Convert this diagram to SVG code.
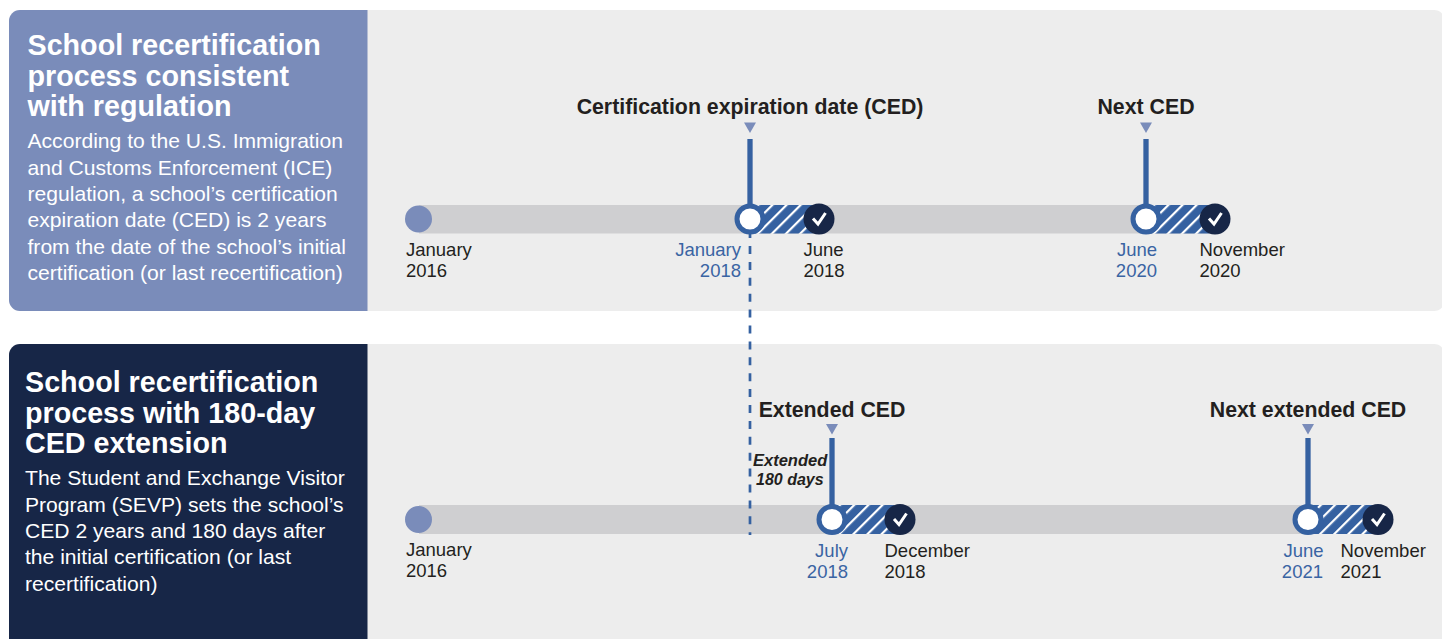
<svg xmlns="http://www.w3.org/2000/svg" width="1442" height="639" viewBox="0 0 1442 639">
<style>
text{font-family:"Liberation Sans",Arial,sans-serif;}
.h{font-size:28.700px;font-weight:700;fill:#fff}
.b{font-size:21.100px;fill:#fff}
.t{font-size:21.300px;font-weight:700;fill:#231f20}
.d{font-size:18.500px;fill:#231f20}
.db{font-size:18.500px;fill:#3a64a3}
.e{text-anchor:end}
.i{font-size:16.500px;font-weight:700;font-style:italic;fill:#231f20}
.bar{fill:#cfcfd1}
.stem{stroke:#3561a1;stroke-width:5.300;fill:none}
.tri{fill:#7a8cba}
.ring{fill:#fff;stroke:#3561a1;stroke-width:5}
.dark{fill:#172647}
.chk{fill:none;stroke:#fff;stroke-width:3}
.start{fill:#7a8cba}
</style>
<defs>
<pattern id="hatch" width="10" height="10" patternUnits="userSpaceOnUse" patternTransform="rotate(45)">
<rect width="10" height="10" fill="#3561a1"/>
<rect x="0" width="2.200" height="10" fill="#fff"/>
</pattern>
</defs>
<rect width="1442" height="639" fill="#fff"/>
<g id="panel-top">
<path d="M1434 10H20a11 11 0 0 0-11 11V300a11 11 0 0 0 11 11H1434a11 11 0 0 0 11-11V21a11 11 0 0 0-11-11Z" fill="#ededed"/>
<path d="M367.500 10H20a11 11 0 0 0-11 11V300a11 11 0 0 0 11 11H367.500Z" fill="#7a8cba"/>
<text class="h" x="27.500" y="55">School recertification</text>
<text class="h" x="27.500" y="85.500">process consistent</text>
<text class="h" x="27.500" y="115.500">with regulation</text>
<text class="b" x="27.500" y="148">According to the U.S. Immigration</text>
<text class="b" x="27.500" y="174.500">and Customs Enforcement (ICE)</text>
<text class="b" x="27.500" y="201">regulation, a school’s certification</text>
<text class="b" x="27.500" y="227">expiration date (CED) is 2 years</text>
<text class="b" x="27.500" y="253.500">from the date of the school’s initial</text>
<text class="b" x="27.500" y="280">certification (or last recertification)</text>
</g>
<g id="panel-bottom">
<path d="M1434 344H20a11 11 0 0 0-11 11V639H1445V355a11 11 0 0 0-11-11Z" fill="#ededed"/>
<path d="M367.500 344H20a11 11 0 0 0-11 11V639H367.500Z" fill="#172647"/>
<text class="h" x="25" y="392">School recertification</text>
<text class="h" x="25" y="422.500">process with 180-day</text>
<text class="h" x="25" y="452.500">CED extension</text>
<text class="b" x="25" y="485">The Student and Exchange Visitor</text>
<text class="b" x="25" y="511.500">Program (SEVP) sets the school’s</text>
<text class="b" x="25" y="538">CED 2 years and 180 days after</text>
<text class="b" x="25" y="564">the initial certification (or last</text>
<text class="b" x="25" y="590.500">recertification)</text>
</g>
<g id="timeline-top">
<rect class="bar" x="419" y="205" width="790" height="28.500"/>
<circle class="start" cx="418.500" cy="219" r="13.500"/>
<text class="d" x="406" y="256">January</text>
<text class="d" x="406" y="277">2016</text>
</g>
<g id="timeline-bottom">
<rect class="bar" x="419" y="505" width="960" height="29"/>
<circle class="start" cx="418.500" cy="519.500" r="13.500"/>
<text class="d" x="406" y="556">January</text>
<text class="d" x="406" y="577">2016</text>
</g>
<g id="connectors">
<line x1="750" y1="230.100" x2="750" y2="535" stroke="#3561a1" stroke-width="2.700" stroke-dasharray="8 7.900"/>
<line class="stem" x1="750" y1="139" x2="750" y2="210"/>
<line class="stem" x1="1146" y1="139" x2="1146" y2="210"/>
<line class="stem" x1="832" y1="438" x2="832" y2="510"/>
<line class="stem" x1="1308" y1="438" x2="1308" y2="510"/>
</g>
<g id="ced-1">
<text class="t" x="750" y="114" text-anchor="middle">Certification expiration date (CED)</text>
<path class="tri" d="M744 122.500h12l-6 10.500z"/>
<rect x="750" y="205" width="70" height="28.500" fill="url(#hatch)"/>
<circle class="ring" cx="750" cy="219" r="13"/>
<circle class="dark" cx="819" cy="219" r="15.500"/>
<path class="chk" d="M813 218.500l5 5.500 7.500-11"/>
<text class="db e" x="741" y="256">January</text>
<text class="db e" x="741" y="277">2018</text>
<text class="d" x="803.500" y="256">June</text>
<text class="d" x="803.500" y="277">2018</text>
</g>
<g id="ced-2">
<text class="t" x="1146" y="114" text-anchor="middle">Next CED</text>
<path class="tri" d="M1140 122.500h12l-6 10.500z"/>
<rect x="1146" y="205" width="70" height="28.500" fill="url(#hatch)"/>
<circle class="ring" cx="1146" cy="219" r="13"/>
<circle class="dark" cx="1215" cy="219" r="15.500"/>
<path class="chk" d="M1209 218.500l5 5.500 7.500-11"/>
<text class="db e" x="1157" y="256">June</text>
<text class="db e" x="1157" y="277">2020</text>
<text class="d" x="1199.500" y="256">November</text>
<text class="d" x="1199.500" y="277">2020</text>
</g>
<g id="ext-ced-1">
<text class="t" x="832" y="417" text-anchor="middle">Extended CED</text>
<path class="tri" d="M826 424h12l-6 10.500z"/>
<rect x="832" y="505" width="70" height="29" fill="url(#hatch)"/>
<circle class="ring" cx="832" cy="519.500" r="13"/>
<circle class="dark" cx="900" cy="519.500" r="15.500"/>
<path class="chk" d="M894 519l5 5.500 7.500-11"/>
<text class="db e" x="848" y="557">July</text>
<text class="db e" x="848" y="578">2018</text>
<text class="d" x="884.500" y="557">December</text>
<text class="d" x="884.500" y="578">2018</text>
<text class="i" x="753" y="466">Extended</text>
<text class="i" x="756" y="485" style="font-size:16px">180 days</text>
</g>
<g id="ext-ced-2">
<text class="t" x="1308" y="417" text-anchor="middle">Next extended CED</text>
<path class="tri" d="M1302 424h12l-6 10.500z"/>
<rect x="1308" y="505" width="70" height="29" fill="url(#hatch)"/>
<circle class="ring" cx="1308" cy="519.500" r="13"/>
<circle class="dark" cx="1378" cy="519.500" r="15.500"/>
<path class="chk" d="M1372 519l5 5.500 7.500-11"/>
<text class="db e" x="1323.500" y="557">June</text>
<text class="db e" x="1323" y="578">2021</text>
<text class="d" x="1340.500" y="557">November</text>
<text class="d" x="1340.500" y="578">2021</text>
</g>
</svg>
